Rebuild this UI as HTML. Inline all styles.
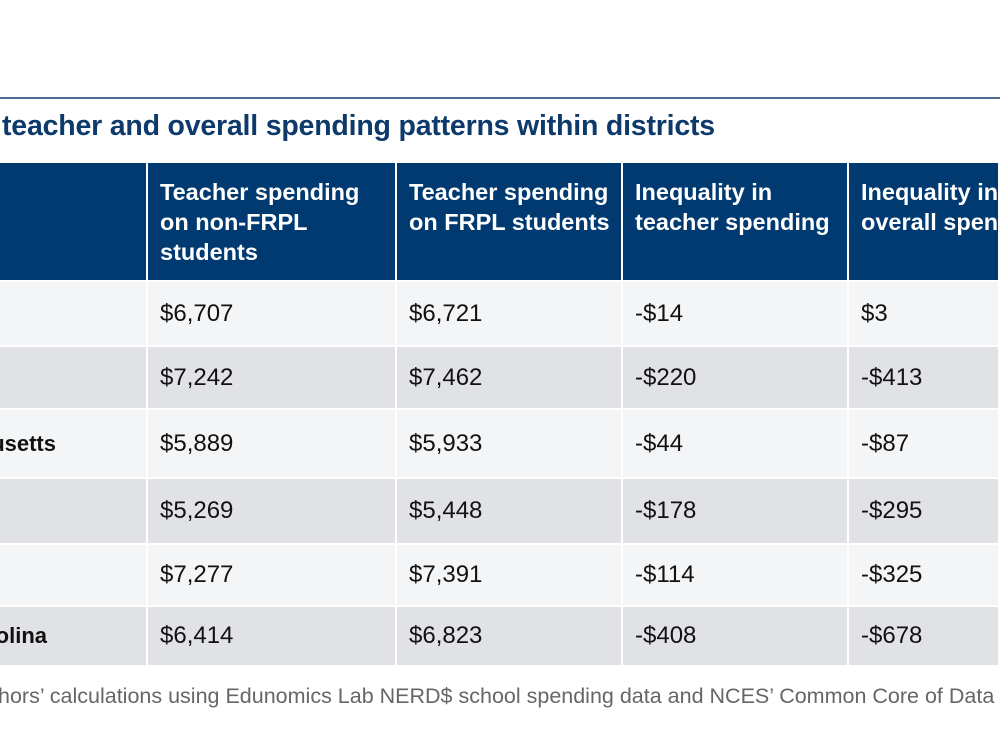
<!DOCTYPE html>
<html><head><meta charset="utf-8"><style>
body{margin:0;width:1000px;height:750px;overflow:hidden;background:#fff;font-family:"Liberation Sans",sans-serif;position:relative}
.a{position:absolute}
.hline{left:0;top:97px;width:1000px;height:2px;background:#4f6f96}
.title{left:2px;top:110px;font-size:28.5px;font-weight:bold;color:#0d3a6b;white-space:nowrap;letter-spacing:-0.2px}
.cell{position:absolute;box-sizing:border-box;padding-left:12px;display:flex;align-items:center;font-size:24px;color:#111;white-space:nowrap;border-right:2px solid #fff;border-bottom:2px solid #fff;overflow:hidden}
.hd{background:#003a70;color:#fff;font-weight:bold;align-items:flex-start;padding-top:14px;line-height:30px;font-size:23.5px}
.foot{left:-2px;top:684px;font-size:21.5px;color:#666;white-space:nowrap}
.state{position:absolute;font-weight:bold;font-size:22px;color:#111;white-space:nowrap}
</style></head><body>
<div class="a hline"></div>
<div class="a title">teacher and overall spending patterns within districts</div>
<div id="t"></div>
<div class="a foot">hors’ calculations using Edunomics Lab NERD$ school spending data and NCES’ Common Core of Data</div>
<script>
const cols=[0,148,397,623,849,1000];
const headers=["","Teacher spending<br>on non-FRPL<br>students","Teacher spending<br>on FRPL students","Inequality in<br>teacher spending","Inequality in<br>overall spending"];
const rowsY=[163,282,347,410,479,545,607,667];
const states=["","","Massachusetts","","","North Carolina"];
const nonFrpl=["$6,707","$7,242","$5,889","$5,269","$7,277","$6,414"];
const frpl=["$6,721","$7,462","$5,933","$5,448","$7,391","$6,823"];
const teachIneq=["-$14","-$220","-$44","-$178","-$114","-$408"];
const overallIneq=["$3","-$413","-$87","-$295","-$325","-$678"];
const t=document.getElementById('t');
function mk(x0,x1,y0,y1,cls,bg){
 const d=document.createElement('div');
 d.className='cell '+cls;
 d.style.left=x0+'px';d.style.top=y0+'px';d.style.width=(x1-x0)+'px';d.style.height=(y1-y0)+'px';
 if(bg)d.style.background=bg;
 t.appendChild(d);return d;
}
for(let c=0;c<5;c++){
 const d=mk(cols[c],cols[c+1],rowsY[0],rowsY[1],'hd');
 d.innerHTML='<span>'+headers[c]+'</span>';
 
 
}
for(let r=0;r<6;r++){
 const bg=r%2===0?'#f4f5f7':'#e1e2e6';
 const vals=["",nonFrpl[r],frpl[r],teachIneq[r],overallIneq[r]];
 for(let c=0;c<5;c++){
  const d=mk(cols[c],cols[c+1],rowsY[r+1],rowsY[r+2],'',bg);
  d.textContent=vals[c];
  
  
 }
 if(states[r]){
  const s=document.createElement('div');
  s.className='state';
  
  
  s.textContent=states[r];
  s.style.right=(1000-(r===2?56:47))+'px';
  s.style.top=((rowsY[r+1]+rowsY[r+2])/2-14)+'px';
  document.body.appendChild(s);
 }
}
</script>
</body></html>
